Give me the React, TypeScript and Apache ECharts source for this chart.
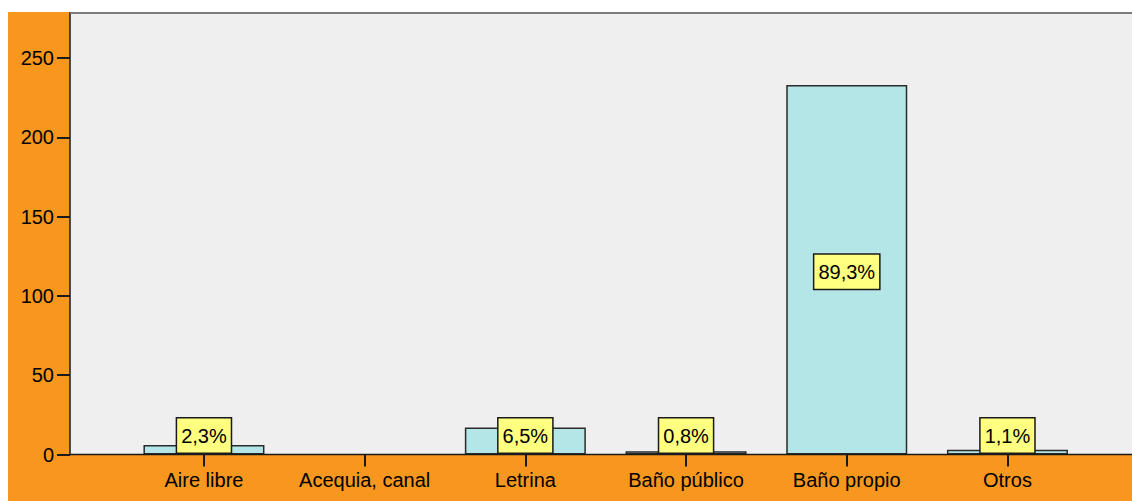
import React, { useEffect, useRef } from "react";
import * as echarts from "echarts";

const categories = ["Aire libre", "Acequia, canal", "Letrina", "Baño público", "Baño propio", "Otros"];
const counts = [6, 0, 17, 2, 233, 3];
const yTicks = [0, 50, 100, 150, 200, 250];
const yMax = 279;

const FONT = "'Liberation Sans', Arial, sans-serif";
const ORANGE = "#F7971E";
const PLOT_BG = "#EFEFEF";
const BAR_FILL = "#B4E6E7";
const LABEL_BG = "#FFFF80";

const W = 1124;
const H = 489;
const PLOT_LEFT = 62;
const GRID_LEFT = 115.6;
const GRID_RIGHT = 44.2;
const GRID_BOTTOM = 46.5;

export default function App() {
  const ref = useRef<HTMLDivElement>(null);

  useEffect(() => {
    if (!ref.current) return;
    const chart = echarts.init(ref.current, null, { renderer: "svg" });
    const total = counts.reduce((a, b) => a + b, 0);
    const pct = (v: number) => ((v / total) * 100).toFixed(1).replace(".", ",") + "%";

    const labelBase = {
      show: true,
      fontFamily: FONT,
      fontSize: 20,
      lineHeight: 24,
      color: "#000",
      backgroundColor: LABEL_BG,
      borderColor: "#1a1a1a",
      borderWidth: 1.5,
      padding: [5, 4, 5, 4],
      formatter: (p: any) => pct(p.value),
    };

    const data = counts.map((v) => {
      if (v === 0) return { value: v, label: { show: false }, itemStyle: { borderWidth: 0 } };
      if (v > 50) return { value: v, label: { ...labelBase, position: "inside", offset: [0, 2] } };
      return { value: v, label: { ...labelBase, position: "insideBottom", distance: 2 } };
    });

    const plotBottom = H - GRID_BOTTOM;

    chart.setOption({
      animation: false,
      backgroundColor: ORANGE,
      textStyle: { fontFamily: FONT },
      grid: { left: GRID_LEFT, right: GRID_RIGHT, top: 0, bottom: GRID_BOTTOM, containLabel: false },
      graphic: [
        {
          type: "rect",
          z: -100,
          shape: { x: PLOT_LEFT, y: 0, width: W - PLOT_LEFT, height: plotBottom },
          style: { fill: PLOT_BG },
          silent: true,
        },
        {
          type: "line",
          z: 100,
          shape: { x1: PLOT_LEFT, y1: 1, x2: W, y2: 1 },
          style: { stroke: "#7A7A7A", lineWidth: 2 },
          silent: true,
        },
        {
          type: "line",
          z: 100,
          shape: { x1: PLOT_LEFT, y1: plotBottom, x2: W, y2: plotBottom },
          style: { stroke: "#1a1a1a", lineWidth: 1.5 },
          silent: true,
        },
      ],
      xAxis: {
        type: "category",
        data: categories,
        boundaryGap: true,
        axisLine: { show: false },
        axisTick: { show: true, alignWithLabel: true, length: 12, lineStyle: { color: "#1a1a1a", width: 2 } },
        axisLabel: { color: "#000", fontSize: 20, fontFamily: FONT, margin: 15, interval: 0 },
        splitLine: { show: false },
      },
      yAxis: {
        type: "value",
        min: 0,
        max: yMax,
        offset: GRID_LEFT - PLOT_LEFT,
        axisLine: { show: true, lineStyle: { color: "#1a1a1a", width: 1.5 } },
        axisTick: { show: true, length: 13, customValues: yTicks, lineStyle: { color: "#1a1a1a", width: 2 } },
        axisLabel: { color: "#000", fontSize: 20, fontFamily: FONT, margin: 16, customValues: yTicks },
        splitLine: { show: false },
      },
      series: [
        {
          type: "bar",
          data,
          barWidth: 121,
          itemStyle: { color: BAR_FILL, borderColor: "#2a2a2a", borderWidth: 1.5 },
        },
      ],
    });

    return () => chart.dispose();
  }, []);

  return (
    <div
      ref={ref}
      style={{ position: "absolute", left: 8, top: 12, width: W, height: H }}
    />
  );
}
